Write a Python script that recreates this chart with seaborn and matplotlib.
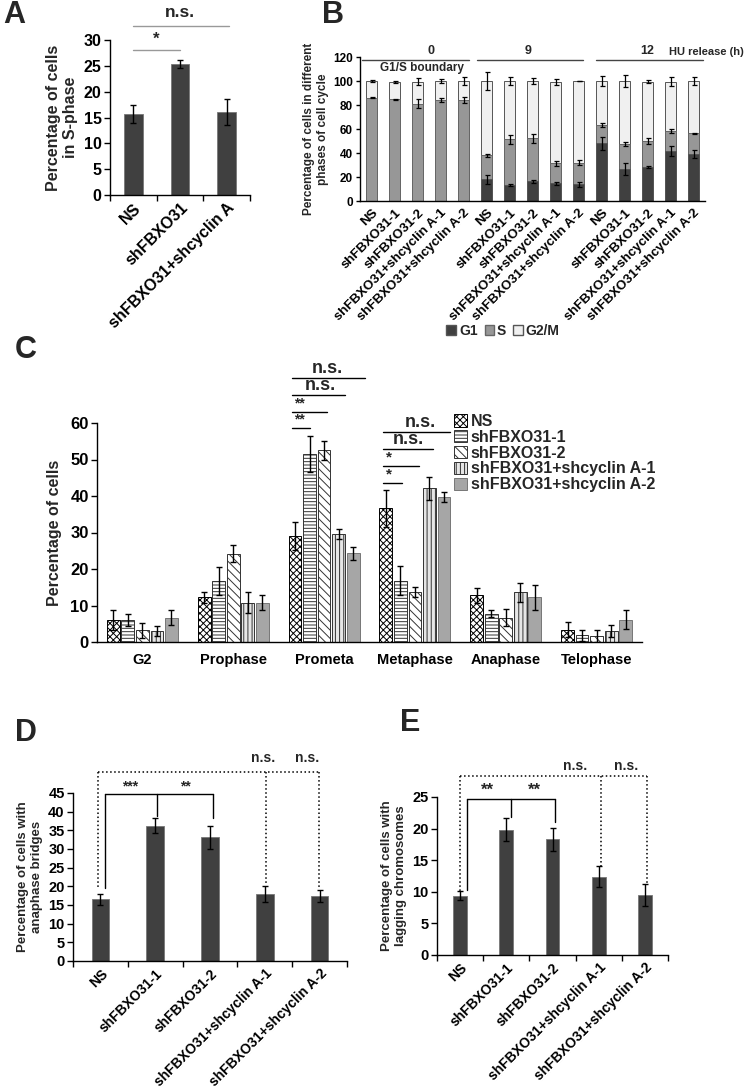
import numpy as np
import pandas as pd
import matplotlib
matplotlib.use('Agg')
import matplotlib.pyplot as plt
import seaborn as sns
from matplotlib.patches import Patch

# ---- data ----
a_groups = ['NS', 'shFBXO31', 'shFBXO31+shcyclin A']
a_vals = [15.7, 25.3, 16.0]
a_err = [1.8, 0.8, 2.5]

conds = ['NS', 'shFBXO31-1', 'shFBXO31-2', 'shFBXO31+shcyclin A-1', 'shFBXO31+shcyclin A-2']

# panel B: cumulative tops of the stacked bars (0 h, 9 h, 12 h)
b_times = ['0', '9', '12']
b_g1 = [0, 0, 0, 0, 0, 18, 13.3, 16.3, 14.7, 14, 48, 26.5, 28.5, 41.5, 39]
b_g1_err = [0, 0, 0, 0, 0, 3.5, 1, 1.5, 1.5, 2, 5.5, 5, 1, 4, 3.5]
b_s = [86, 84.7, 81.2, 84.3, 83.8, 38, 51.3, 52.2, 31.4, 32, 63.5, 47.3, 50, 58.3, 56.3]
b_s_err = [0.5, 0.5, 3.5, 1.5, 2.5, 1.5, 3.5, 4, 2, 2, 1.5, 1.5, 2.5, 1.5, 0.5]
b_total = [100, 99, 99.5, 100, 100, 100, 100, 100, 99.5, 100, 100, 100, 99.5, 99.5, 100]
b_total_err = [0.5, 0.7, 3, 2, 3, 7.5, 3, 2.5, 2.5, 0.3, 4.5, 5, 1.5, 3.5, 3.5]

c_phases = ['G2', 'Prophase', 'Prometa', 'Metaphase', 'Anaphase', 'Telophase']
c_ns = [6.1, 12.2, 29.0, 36.6, 12.8, 3.4]
c_ns_err = [2.7, 1.5, 3.8, 5.0, 2.0, 2.1]
c_sh1 = [6.0, 16.7, 51.5, 16.8, 7.8, 1.8]
c_sh1_err = [1.6, 3.9, 5.0, 4.0, 0.9, 1.4]
c_sh2 = [3.2, 24.2, 52.6, 13.6, 6.7, 1.6]
c_sh2_err = [2.0, 2.4, 2.6, 1.4, 2.3, 1.6]
c_a1 = [3.0, 10.8, 29.6, 42.1, 13.6, 3.0]
c_a1_err = [1.3, 2.9, 1.4, 3.2, 2.7, 1.6]
c_a2 = [6.7, 10.8, 24.3, 39.7, 12.2, 6.1]
c_a2_err = [2.0, 2.0, 1.8, 1.3, 3.4, 2.6]

d_vals = [16.5, 36.2, 33.1, 17.9, 17.4]
d_err = [1.4, 2.0, 3.1, 2.2, 1.6]
e_vals = [9.4, 19.8, 18.3, 12.4, 9.5]
e_err = [0.7, 1.8, 1.8, 1.7, 1.8]

# ---- style ----
sns.set_theme(style='ticks')
plt.rcParams['font.family'] = ['Liberation Sans', 'DejaVu Sans']
plt.rcParams['font.weight'] = 'bold'
plt.rcParams['axes.labelweight'] = 'bold'
plt.rcParams['axes.edgecolor'] = 'black'
plt.rcParams['axes.linewidth'] = 1.0
plt.rcParams['hatch.linewidth'] = 0.7
plt.rcParams['xtick.color'] = 'black'
plt.rcParams['ytick.color'] = 'black'

W, H = 746, 1089
fig = plt.figure(figsize=(W / 100, H / 100), dpi=100)


def rect(x0, y0, x1, y1):
    return [x0 / W, 1 - y1 / H, (x1 - x0) / W, (y1 - y0) / H]


DARK = '#404040'


def simple_panel(ax, labels, vals, errs, width, ymax, ystep, fs_x, fs_y, ylabel, fs_lab):
    df = pd.DataFrame({'cond': labels, 'val': vals})
    sns.barplot(data=df, x='cond', y='val', color=DARK, saturation=1, width=width,
                edgecolor='#777777', linewidth=0.6, ax=ax)
    xs = [p.get_x() + p.get_width() / 2 for p in ax.patches]
    ax.errorbar(xs, vals, yerr=errs, fmt='none', ecolor='black', elinewidth=1,
                capsize=2.5, capthick=1)
    ax.set_xlim(-0.5, len(labels) - 0.5)
    ax.set_ylim(0, ymax)
    ax.set_yticks(np.arange(0, ymax + 0.1, ystep))
    ax.set_xticks(range(len(labels)))
    ax.set_xticklabels(labels, rotation=45, ha='right', rotation_mode='anchor',
                       fontsize=fs_x, fontweight='bold')
    ax.set_xticks(np.arange(-0.5, len(labels)), minor=True)
    ax.tick_params(axis='x', which='major', length=0, pad=4)
    ax.tick_params(axis='x', which='minor', length=4, width=1, direction='out')
    ax.tick_params(axis='y', labelsize=fs_y, length=4, width=1, direction='out', pad=2)
    for t in ax.get_yticklabels():
        t.set_fontweight('bold')
    ax.set_xlabel('')
    ax.set_ylabel(ylabel, fontsize=fs_lab, fontweight='bold', labelpad=4)
    sns.despine(ax=ax)


# ---- panel A ----
axA = fig.add_axes(rect(110, 40, 250, 195))
simple_panel(axA, a_groups, a_vals, a_err, 0.4, 30, 5, 11.5, 11.5,
             'Percentage of cells\nin S-phase', 11.5)
axA.plot([0, 1], [28.1, 28.1], color='#999999', lw=1, clip_on=False)
axA.text(0.5, 28.6, '*', ha='center', va='bottom', fontsize=12, fontweight='bold')
axA.plot([0, 2.05], [32.7, 32.7], color='#999999', lw=1, clip_on=False)
axA.text(1.0, 35.4, 'n.s.', ha='center', va='center', fontsize=12.5, fontweight='bold')

# ---- panel B ----
axB = fig.add_axes(rect(360, 57, 705, 201))
pos = np.arange(len(b_total))
for vals, col, ec in [(b_total, '#f0f0f0', '#555555'), (b_s, '#979797', '#666666'),
                      (b_g1, DARK, '#555555')]:
    sns.barplot(x=pos, y=vals, color=col, saturation=1, width=0.45, edgecolor=ec,
                linewidth=0.7, ax=axB)
for vals, errs in [(b_total, b_total_err), (b_s, b_s_err), (b_g1, b_g1_err)]:
    v = np.array(vals, dtype=float)
    e = np.array(errs, dtype=float)
    keep = v > 0
    axB.errorbar(pos[keep], v[keep], yerr=e[keep], fmt='none', ecolor='black',
                 elinewidth=0.9, capsize=1.8, capthick=0.9)
axB.set_xlim(-0.5, len(b_total) - 0.5)
axB.set_ylim(0, 120)
axB.set_yticks(np.arange(0, 121, 20))
axB.set_xticks(pos)
axB.set_xticklabels(conds * 3, rotation=45, ha='right', rotation_mode='anchor',
                    fontsize=9.5, fontweight='bold')
axB.tick_params(axis='x', length=0, pad=4)
axB.tick_params(axis='y', labelsize=8.5, length=3, width=1, direction='out', pad=2)
for t in axB.get_yticklabels():
    t.set_fontweight('bold')
axB.set_ylabel('Percentage of cells in different\nphases of cell cycle', fontsize=8.5,
               fontweight='bold', labelpad=3)
sns.despine(ax=axB)
for txt, tx, x0, x1 in [(b_times[0], 2.6, -0.4, 4.25), (b_times[1], 6.8, 4.6, 9.2),
                        (b_times[2], 12.0, 9.76, 14.4)]:
    axB.plot([x0, x1], [117.5, 117.5], color='#444444', lw=1, clip_on=False)
    axB.text(tx, 120, txt, ha='center', va='bottom', fontsize=9, fontweight='bold')
axB.text(2.2, 110.8, 'G1/S boundary', ha='center', va='center', fontsize=8.5,
         fontweight='bold')
axB.text(12.95, 124, 'HU release (h)', ha='left', va='center', fontsize=8,
         fontweight='bold', clip_on=False)
fig.legend(handles=[Patch(facecolor=DARK, edgecolor='#555555', label='G1'),
                    Patch(facecolor='#979797', edgecolor='#666666', label='S'),
                    Patch(facecolor='#f0f0f0', edgecolor='#555555', label='G2/M')],
           loc='center', bbox_to_anchor=(503 / W, 1 - 331 / H), ncol=3, frameon=False,
           fontsize=10, handlelength=0.7, handleheight=0.7, handletextpad=0.2,
           columnspacing=0.5, borderaxespad=0)

# ---- panel C ----
axC = fig.add_axes(rect(97, 423, 642, 642))
c_series = [c_ns, c_sh1, c_sh2, c_a1, c_a2]
c_errs = [c_ns_err, c_sh1_err, c_sh2_err, c_a1_err, c_a2_err]
c_faces = ['white', 'white', 'white', '#e6e6e6', '#a6a6a6']
c_hatches = ['xxxxx', '-----', '\\\\\\\\', '||||', '']
c_edges = ['black', '#333333', '#333333', '#333333', '#777777']
dfC = pd.DataFrame({
    'phase': c_phases * len(conds),
    'cond': np.repeat(conds, len(c_phases)),
    'val': np.concatenate(c_series),
})
sns.barplot(data=dfC, x='phase', y='val', hue='cond', order=c_phases, hue_order=conds,
            palette=c_faces, saturation=1, width=0.8, gap=0.12, legend=False, ax=axC)
for cont, errs, h, ec in zip(axC.containers, c_errs, c_hatches, c_edges):
    xs = []
    ys = []
    for p in cont.patches:
        p.set_hatch(h)
        p.set_edgecolor(ec)
        p.set_linewidth(0.7)
        xs.append(p.get_x() + p.get_width() / 2)
        ys.append(p.get_height())
    axC.errorbar(xs, ys, yerr=errs, fmt='none', ecolor='black', elinewidth=1,
                 capsize=2.2, capthick=1)
axC.set_xlim(-0.5, len(c_phases) - 0.5)
axC.set_ylim(0, 60)
axC.set_yticks(np.arange(0, 61, 10))
axC.tick_params(axis='x', length=0, labelsize=10.5, pad=8)
axC.tick_params(axis='y', labelsize=12, length=4, width=1, direction='out', pad=2)
for t in axC.get_xticklabels() + axC.get_yticklabels():
    t.set_fontweight('bold')
axC.set_xlabel('')
axC.set_ylabel('Percentage of cells', fontsize=11.5, fontweight='bold', labelpad=6)
sns.despine(ax=axC)

sig_prometa = [(58.6, 1.85, '**', 1.67), (63.0, 2.03, '**', 1.67),
               (67.7, 2.23, 'n.s.', 1.96), (72.3, 2.45, 'n.s.', 2.04)]
for y, x1, lab, tx in sig_prometa:
    axC.plot([1.65, x1], [y, y], color='black', lw=1, clip_on=False)
    if lab == '**':
        axC.text(tx, y + 0.4, lab, ha='left', va='bottom', fontsize=10, fontweight='bold')
    else:
        axC.text(tx, y + 0.3, lab, ha='center', va='bottom', fontsize=13, fontweight='bold')
sig_meta = [(43.6, 2.86, '*', 2.68), (48.2, 3.04, '*', 2.68),
            (52.9, 3.2, 'n.s.', 2.93), (57.5, 3.39, 'n.s.', 3.06)]
for y, x1, lab, tx in sig_meta:
    axC.plot([2.65, x1], [y, y], color='black', lw=1, clip_on=False)
    if lab == '*':
        axC.text(tx, y + 0.4, lab, ha='left', va='bottom', fontsize=11, fontweight='bold')
    else:
        axC.text(tx, y + 0.3, lab, ha='center', va='bottom', fontsize=13, fontweight='bold')

fig.legend(handles=[Patch(facecolor=f, hatch=h, edgecolor=e, label=c, linewidth=0.7)
                    for f, h, e, c in zip(c_faces, c_hatches, c_edges, conds)],
           loc='upper left', bbox_to_anchor=(454 / W, 1 - 414 / H), frameon=False,
           fontsize=11.5, labelspacing=0.05, handlelength=0.8, handleheight=0.8,
           handletextpad=0.25, borderaxespad=0, borderpad=0)

# ---- panel D ----
axD = fig.add_axes(rect(73, 793, 347, 961))
simple_panel(axD, conds, d_vals, d_err, 0.32, 45, 5, 10, 10.5,
             'Percentage of cells with\nanaphase bridges', 9.5)
axD.plot([0.08, 2.05], [44.7, 44.7], color='black', lw=1, clip_on=False)
for x, y in [(0.08, 19.6), (1.03, 38.9), (2.05, 38.3)]:
    axD.plot([x, x], [44.7, y], color='black', lw=1, clip_on=False)
axD.text(0.55, 45.0, '***', ha='center', va='bottom', fontsize=10, fontweight='bold')
axD.text(1.55, 45.0, '**', ha='center', va='bottom', fontsize=10, fontweight='bold')
axD.plot([-0.04, 3.99], [50.7, 50.7], color='black', lw=1.1, ls=':', clip_on=False)
for x, y in [(-0.04, 19.6), (3.02, 20.5), (3.99, 19.3)]:
    axD.plot([x, x], [50.7, y], color='black', lw=1.1, ls=':', clip_on=False)
axD.text(2.97, 54.4, 'n.s.', ha='center', va='center', fontsize=10, fontweight='bold')
axD.text(3.77, 54.4, 'n.s.', ha='center', va='center', fontsize=10, fontweight='bold')

# ---- panel E ----
axE = fig.add_axes(rect(437, 797, 668, 955))
simple_panel(axE, conds, e_vals, e_err, 0.3, 25, 5, 10, 10.5,
             'Percentage of cells with\nlagging chromosomes', 9.5)
axE.plot([0.15, 2.05], [24.7, 24.7], color='black', lw=1, clip_on=False)
for x, y in [(0.15, 10.3), (1.1, 21.9), (2.05, 21.0)]:
    axE.plot([x, x], [24.7, y], color='black', lw=1, clip_on=False)
axE.text(0.6, 24.9, '**', ha='center', va='bottom', fontsize=12, fontweight='bold')
axE.text(1.6, 24.9, '**', ha='center', va='bottom', fontsize=12, fontweight='bold')
axE.plot([0.0, 4.05], [28.4, 28.4], color='black', lw=1.1, ls=':', clip_on=False)
for x, y in [(0.0, 10.1), (3.05, 14.1), (4.05, 11.3)]:
    axE.plot([x, x], [28.4, y], color='black', lw=1.1, ls=':', clip_on=False)
axE.text(2.5, 29.9, 'n.s.', ha='center', va='center', fontsize=10, fontweight='bold')
axE.text(3.6, 29.9, 'n.s.', ha='center', va='center', fontsize=10, fontweight='bold')

# ---- panel letters ----
for lab, x, y in [('A', 3, 15), ('B', 322, 15), ('C', 15, 350), ('D', 15, 733),
                  ('E', 400, 723)]:
    fig.text(x / W, 1 - y / H, lab, fontsize=22, fontweight='bold', ha='left',
             va='center')

fig.savefig('out.png', dpi=100)
